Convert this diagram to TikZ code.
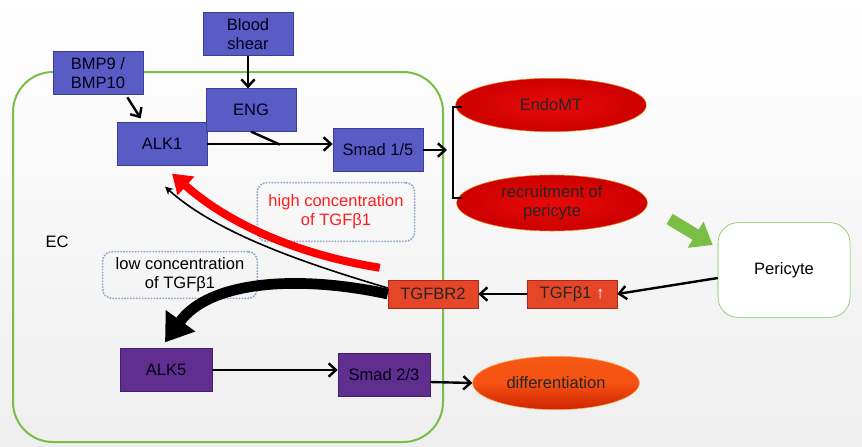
\documentclass[tikz,border=0pt]{standalone}
\usepackage{fontspec}
\setmainfont{Liberation Sans}
\usepackage{tikz}
\usetikzlibrary{shapes.geometric,arrows.meta,calc}

\definecolor{boxblue}{RGB}{90,92,198}
\definecolor{boxblueline}{RGB}{60,62,150}
\definecolor{boxpurple}{RGB}{96,46,142}
\definecolor{boxpurpleline}{RGB}{70,30,110}
\definecolor{boxred}{RGB}{230,70,40}
\definecolor{boxredline}{RGB}{170,40,25}
\definecolor{ecgreen}{RGB}{122,190,70}
\definecolor{dotblue}{RGB}{140,165,200}
\definecolor{ellred}{RGB}{232,10,10}
\definecolor{ellreddark}{RGB}{205,0,0}
\definecolor{ellorange}{RGB}{245,90,20}
\definecolor{ellorangedark}{RGB}{205,35,0}

\begin{document}
\begin{tikzpicture}[x=0.75pt, y=-0.75pt, font=\fontsize{12.4}{14.5}\selectfont]
  \tikzstyle{line} = [draw, -{Straight Barb[length=5.5pt,width=10pt]}, line width = 1.8pt]
  \tikzstyle{bluebox} = [draw=boxblueline, fill=boxblue, inner sep=0pt, minimum width=67.5pt, minimum height=32pt, align=center, text=black!90!blue]
  \tikzstyle{purplebox} = [draw=boxpurpleline, fill=boxpurple, inner sep=0pt, minimum width=69pt, minimum height=32pt, align=center, text=black!90!blue]
  \tikzstyle{redbox} = [draw=boxredline, fill=boxred, inner sep=0pt, minimum width=67.5pt, minimum height=21pt, text=black!85]
  \tikzstyle{redell} = [ellipse, draw=orange!60!brown, inner color=ellred, outer color=ellreddark, inner sep=0pt, minimum width=143pt, minimum height=40pt, align=center, text=black!85]
  \tikzstyle{note} = [draw=dotblue, densely dotted, line width=1.2pt, rounded corners=7pt, align=center, inner sep=0pt]

  \useasboundingbox (0,0) rectangle (862,446);
  \fill[top color=white, bottom color=gray!13] (0,0) rectangle (862,446);

  \draw[ecgreen, line width=1.5pt, rounded corners=30pt] (13,72) rectangle (443,442);
  \node (ec) at (57,242) {EC};

  \node[bluebox] (blood) at (248,34) {Blood\\shear};
  \node[bluebox] (bmp) at (98,73) {BMP9 /\\BMP10};
  \node[bluebox] (alkone) at (162,144) {ALK1};
  \node[bluebox] (eng) at (251,110) {ENG};
  \node[bluebox] (smadone) at (378,150) {Smad 1/5};

  \node[redell] (endomt) at (551,105) {EndoMT};
  \node[redell, minimum height=42pt] (recruit) at (552,203) {recruitment of\\pericyte};

  \node[draw=ecgreen, fill=white, rounded corners=15pt, minimum width=99pt, minimum height=71pt] (pericyte) at (784,270) {Pericyte};

  \node[redbox] (tgfb) at (572,294) {TGFβ1 {\color{white}↑}};
  \node[redbox] (tgfbr) at (433,294) {TGFBR2};

  \node[note, minimum width=118pt, minimum height=44pt, text={rgb,255:red,255;green,30;blue,30}] (high) at (336,212) {high concentration\\of TGFβ1};
  \node[note, minimum width=116pt, minimum height=35pt] (low) at (180,275) {low concentration\\of TGFβ1};

  \node[purplebox] (alkfive) at (166,370) {ALK5};
  \node[purplebox] (smadtwo) at (384,375) {Smad 2/3};

  \node[ellipse, draw=orange!70, top color=ellorange, bottom color=ellorangedark, middle color=ellorange!90!red, inner sep=0pt, minimum width=125pt, minimum height=40pt, text=black!85] (diff) at (556,383) {differentiation};

  \coordinate (brk) at (447,150);
  \draw[line width=1.8pt] (462,107) -- (453,107) -- (453,198) -- (462,198);

  \path [line] (blood.south) -- (blood.south |- eng.north);
  \path [line] ([xshift=22pt,yshift=-2pt]bmp.south) -- ([xshift=-16pt,yshift=3pt]alkone.north);
  \path [line] (alkone.east) -- (alkone.east -| smadone.west);
  \draw[line width=1.8pt] (eng.south) -- ($(eng.south)+(29,13)$);
  \path [line] (smadone.east) -- (brk);
  \path [line] (alkfive.east) -- (alkfive.east -| smadtwo.west);
  \path [line] ($(smadtwo.east)+(0,7)$) -- (diff.west);
  \path [line] ($(pericyte.west)+(0,8)$) -- (tgfb.east);
  \path [line] (tgfb.west) -- (tgfbr.east);

  \draw[ecgreen, line width=9pt, -{Triangle[length=15pt,width=22pt]}] ($(recruit.east)+(22,16)$) -- ($(pericyte.west)+(-5,-25)$);

  \draw[red, line width=6pt, -{Triangle[length=14pt,width=18pt]}] ($(tgfbr.north west)+(-8,-12)$) .. controls (300,255) and (230,225) .. ($(alkone.south)+(10,8)$);
  \draw[black, line width=1.2pt, -{Stealth[length=6pt,width=6pt]}] ($(tgfbr.west)+(0,-6)$) .. controls (300,262) and (215,232) .. ($(alkone.south)+(3,21)$);
  \draw[black, line width=8pt, -{Triangle[length=20pt,width=26pt]}] (tgfbr.west) .. controls (300,275) and (210,280) .. ($(alkfive.north)+(-1,-6)$);

\end{tikzpicture}
\end{document}
